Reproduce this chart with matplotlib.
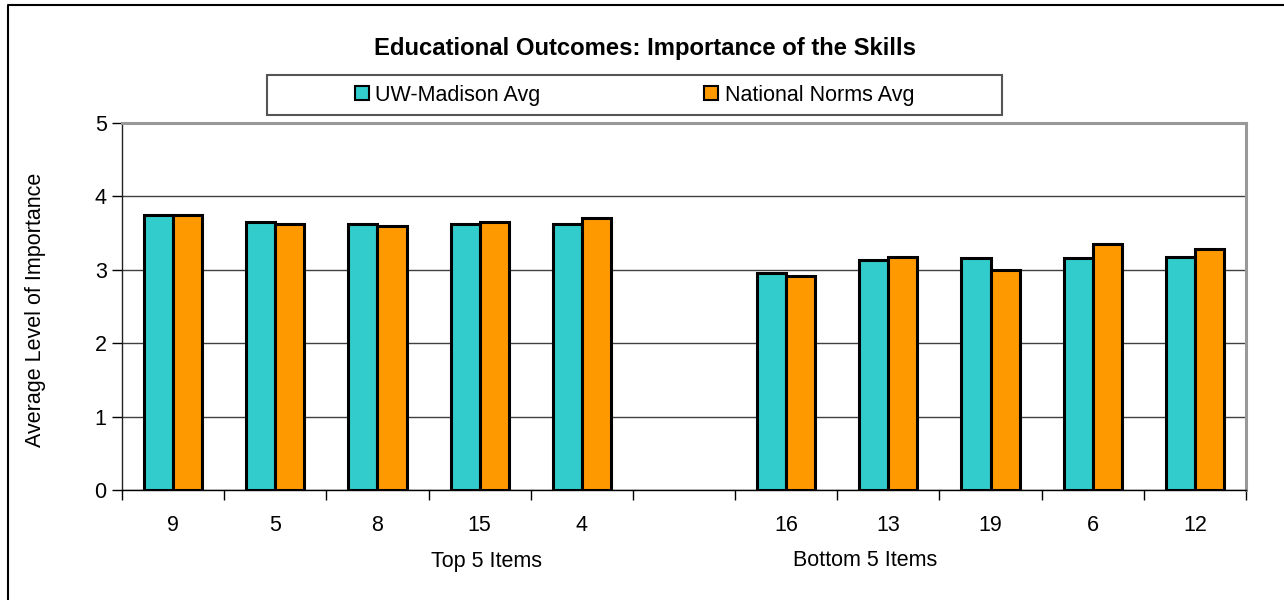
import numpy as np
import matplotlib
matplotlib.use("Agg")
import matplotlib.pyplot as plt
from matplotlib.patches import Rectangle, Patch
from matplotlib.lines import Line2D
from matplotlib.transforms import blended_transform_factory

# ---- data ----
categories = ["9", "5", "8", "15", "4", "", "16", "13", "19", "6", "12"]
uw_avg = [3.74, 3.65, 3.62, 3.62, 3.62, np.nan, 2.95, 3.14, 3.16, 3.16, 3.18]
national_avg = [3.75, 3.62, 3.60, 3.65, 3.70, np.nan, 2.91, 3.17, 3.00, 3.35, 3.29]
series_names = ["UW-Madison Avg", "National Norms Avg"]
group_labels = ["Top 5 Items", "Bottom 5 Items"]
group_label_x = [3.07, 6.77]
title = "Educational Outcomes: Importance of the Skills"
ylabel = "Average Level of Importance"
yticks = [0, 1, 2, 3, 4, 5]

TEAL = "#33CCCC"
ORANGE = "#FF9900"
FS = 15.5

plt.rcParams['font.family'] = ['Liberation Sans', 'DejaVu Sans']

W, H = 1284, 600
fig = plt.figure(figsize=(W / 100, H / 100), dpi=100)

def fx(px):
    return px / W

def fy(py):
    return 1 - py / H

ax = fig.add_axes([fx(122), fy(490), fx(1246) - fx(122), fy(123) - fy(490)])

x = np.arange(len(categories))
bw = 0.285
ax.bar(x - bw / 2, uw_avg, bw, color=TEAL, edgecolor="black", linewidth=2.2, zorder=3)
ax.bar(x + bw / 2, national_avg, bw, color=ORANGE, edgecolor="black", linewidth=2.2, zorder=3)

ax.set_xlim(-0.5, len(categories) - 0.5)
ax.set_ylim(0, 5)

# y axis
ax.set_yticks(yticks)
ax.set_yticklabels([str(t) for t in yticks], fontsize=FS)
ax.tick_params(axis="y", direction="out", length=7, width=1, pad=4, color="black")
ax.yaxis.grid(True, color="#404040", linewidth=1.0, zorder=0)
ax.set_axisbelow(True)

# x axis: ticks at boundaries, labels at centres
ax.set_xticks(np.arange(len(categories) + 1) - 0.5)
ax.set_xticklabels([])
ax.tick_params(axis="x", which="major", direction="out", length=7, width=1, color="black")
ax.set_xticks(x, minor=True)
ax.set_xticklabels(categories, minor=True, fontsize=FS)
ax.tick_params(axis="x", which="minor", length=0, pad=18)

for s in ["top", "right"]:
    ax.spines[s].set_color("#999999")
    ax.spines[s].set_linewidth(2.2)
ax.spines["left"].set_color("#222222")
ax.spines["left"].set_linewidth(1)
ax.spines["bottom"].set_color("black")
ax.spines["bottom"].set_linewidth(1)

# group labels
trans = blended_transform_factory(ax.transData, ax.transAxes)
for gx, gl in zip(group_label_x, group_labels):
    ax.text(gx, (490 - 561) / 367, gl, transform=trans, ha="center", va="center", fontsize=FS)

# y label
fig.text(fx(36), fy(310), ylabel, rotation=90, ha="center", va="center", fontsize=FS)

# title
fig.text(fx(645), fy(49), title, ha="center", va="center", fontsize=17.2, fontweight="bold")

# legend box
fig.patches.append(Rectangle((fx(267), fy(115)), fx(1002) - fx(267), fy(75) - fy(115),
                             transform=fig.transFigure, facecolor="white",
                             edgecolor="#555555", linewidth=1.5))
handles = [Patch(facecolor=TEAL, edgecolor="black", linewidth=1.5),
           Patch(facecolor=ORANGE, edgecolor="black", linewidth=1.5)]
fig.legend(handles, series_names, loc="center", bbox_to_anchor=(fx(634.5), fy(95)),
           ncol=2, frameon=False, fontsize=FS, handlelength=0.65, handleheight=0.65,
           handletextpad=0.3, columnspacing=7.6, borderpad=0)

# figure border (left and top)
fig.add_artist(Line2D([fx(8), fx(8), 1.0], [0.0, fy(5), fy(5)], transform=fig.transFigure,
                      color="black", linewidth=1.5))

fig.savefig("out.png", dpi=100)
